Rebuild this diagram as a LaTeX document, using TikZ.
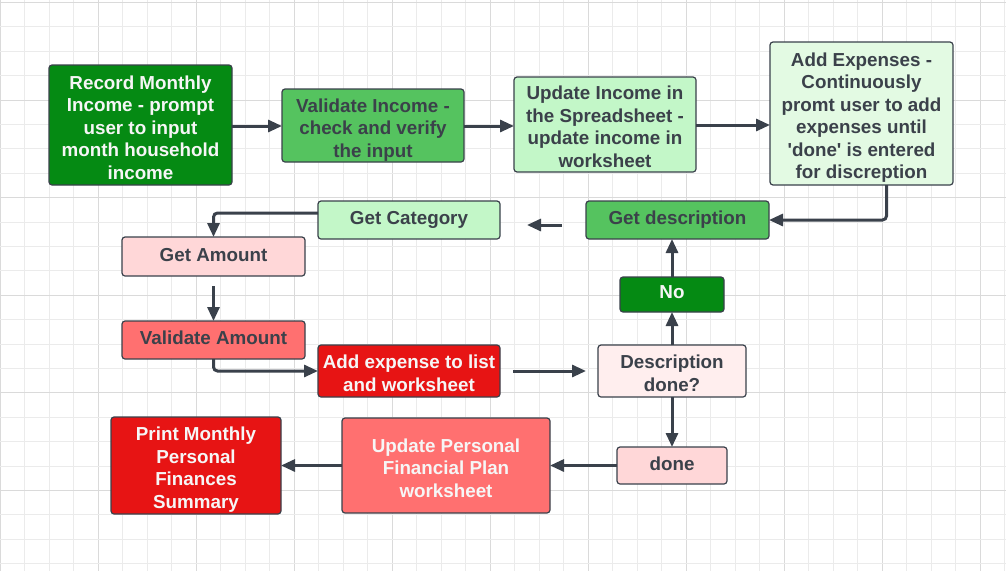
\documentclass[tikz,border=0pt]{standalone}
\usepackage{fontspec}
\setmainfont{Liberation Sans}
\usetikzlibrary{arrows.meta}
\definecolor{gridminor}{HTML}{EBEBEB}
\definecolor{gridmajor}{HTML}{DADADA}
\definecolor{edge}{HTML}{3A414B}
\definecolor{txtdark}{HTML}{3B414A}
\definecolor{txtlight}{HTML}{F6F6F6}
\definecolor{gdark}{HTML}{058A13}
\definecolor{gmid}{HTML}{55C35F}
\definecolor{glight}{HTML}{C3F7C8}
\definecolor{gpale}{HTML}{E3FAE3}
\definecolor{rdark}{HTML}{E71414}
\definecolor{rmid}{HTML}{FF7070}
\definecolor{rlight}{HTML}{FFD7D8}
\definecolor{rpale}{HTML}{FFEEEE}
\newcommand\topstrut{\rule{0pt}{22pt}}
\tikzset{
  box/.style={draw=edge, line width=1.2pt, rounded corners=3pt, inner sep=0pt, outer sep=0pt,
    align=center, font=\fontsize{18.8}{22.5}\selectfont\bfseries,
    execute at end node=\vphantom{g}},
  dk/.style={text=txtdark},
  lt/.style={text=txtlight},
  conn/.style={draw=edge, line width=3pt, rounded corners=4pt, -{Triangle[length=14pt,width=12pt]}},
}
\begin{document}
\begin{tikzpicture}[x=1pt,y=-1pt]
\useasboundingbox (0,0) rectangle (1006,571);
\fill[white] (0,0) rectangle (1006,571);
% grid
\foreach \i in {0,...,41} {
  \pgfmathsetmacro{\xx}{\i*24.5}
  \pgfmathtruncatemacro{\m}{mod(\i,4)}
  \ifnum\m=0 \draw[gridmajor, line width=1pt] (\xx,0) -- (\xx,571);
  \else \draw[gridminor, line width=1pt] (\xx,0) -- (\xx,571); \fi
}
\foreach \i in {0,...,23} {
  \pgfmathsetmacro{\yy}{2.5+\i*24.4}
  \pgfmathtruncatemacro{\m}{mod(\i,4)}
  \ifnum\m=0 \draw[gridmajor, line width=1pt] (0,\yy) -- (1006,\yy);
  \else \draw[gridminor, line width=1pt] (0,\yy) -- (1006,\yy); \fi
}
% nodes
\node[box, lt, fill=gdark, minimum width=183pt, minimum height=120pt] (rec) at (140.5,125) {\topstrut Record Monthly\\Income - prompt\\user to input\\month household\\income};
\node[box, dk, fill=gmid, minimum width=182pt, minimum height=73pt] (vinc) at (373,125.5) {\topstrut Validate Income -\\check and verify\\the input};
\node[box, dk, fill=glight, minimum width=182pt, minimum height=95pt] (upd) at (605,124.5) {\topstrut Update Income in\\the Spreadsheet -\\update income in\\worksheet};
\node[box, dk, fill=gpale, minimum width=183pt, minimum height=143pt] (addx) at (861.5,113.5) {\topstrut Add Expenses -\\Continuously\\promt user to add\\expenses until\\\textquotesingle done\textquotesingle{} is entered\\for discreption};
\node[box, dk, fill=gmid, minimum width=183pt, minimum height=38pt] (gdesc) at (677.5,220) {Get description};
\node[box, dk, fill=glight, minimum width=182pt, minimum height=38pt] (gcat) at (409,220) {Get Category};
\node[box, dk, fill=rlight, minimum width=183pt, minimum height=39pt] (gamt) at (213.5,256.5) {Get Amount};
\node[box, dk, fill=rmid, minimum width=183pt, minimum height=38pt] (vamt) at (213.5,340) {Validate Amount};
\node[box, lt, fill=rdark, minimum width=182pt, minimum height=52pt] (addl) at (409,371) {\topstrut Add expense to list\\and worksheet};
\node[box, dk, fill=rpale, minimum width=148pt, minimum height=52pt] (ddone) at (672,371) {\topstrut Description\\done?};
\node[box, lt, fill=gdark, minimum width=104pt, minimum height=35pt] (no) at (672,294.5) {No};
\node[box, dk, fill=rlight, minimum width=110pt, minimum height=37pt] (done) at (672,465.5) {done};
\node[box, lt, fill=rmid, minimum width=208pt, minimum height=95pt] (upp) at (446,465.5) {\topstrut Update Personal\\Financial Plan\\worksheet};
\node[box, lt, fill=rdark, minimum width=170pt, minimum height=97pt] (prt) at (196,465.5) {\topstrut Print Monthly\\Personal\\Finances\\Summary};
\coordinate (f1) at (562,225);
\coordinate (f2) at (527,225);
% connectors
\draw[conn] (rec.east |- 0,126) -- (vinc.west |- 0,126);
\draw[conn] (vinc.east |- 0,126) -- (upd.west |- 0,126);
\draw[conn] (upd.east |- 0,125) -- (addx.west |- 0,125);
\draw[conn] (addx.south) ++(25,0) |- (gdesc.east);
\draw[conn] (f1) -- (f2);
\draw[conn] ([yshift=7pt]gcat.west) -| (gamt.north);
\draw[conn] ([yshift=-10pt]gamt.south) -- (vamt.north);
\draw[conn] (vamt.south) |- (addl.west);
\draw[conn] ([xshift=13pt]addl.east) -- ([xshift=-12pt]ddone.west);
\draw[conn] (ddone.north) -- (no.south);
\draw[conn] (no.north) -- (no.north |- gdesc.south);
\draw[conn] (ddone.south) -- (done.north);
\draw[conn] (done.west) -- (upp.east);
\draw[conn] (upp.west) -- (prt.east);
\end{tikzpicture}
\end{document}
